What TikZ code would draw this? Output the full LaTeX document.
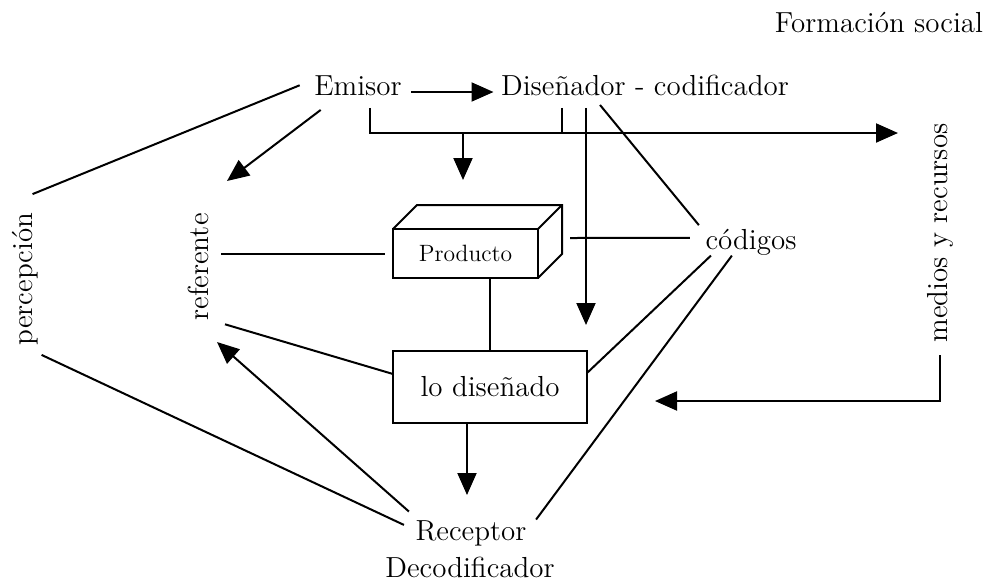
\documentclass[tikz,border=0pt]{standalone}
\usepackage{fontspec}
\usetikzlibrary{arrows.meta}
\newcommand{\dfont}{\fontsize{14.5pt}{17pt}\selectfont}
\tikzset{dgp/.style={
  x=0.5pt,
  y=-0.5pt,
  line width=1pt
}}
\tikzset{dgn/.style={
  font=\dfont,
  inner sep=3.33pt,
  outer sep=3pt
}}
\tikzset{dbox/.style={
  draw,
  shape=rectangle,
  inner sep=0pt,
  outer sep=0pt
}}
\tikzset{darr/.style={-{Triangle[length=11pt,width=9.5pt]}}}

\begin{document}
\begin{tikzpicture}[dgp]
    \useasboundingbox (0,0) rectangle (986,585);

    % Labels
    \node[dgn,anchor=base] (formacion) at (879,32) {Formación social};
    \node[dgn,anchor=base] (emisor) at (358,95) {Emisor};
    \node[dgn,anchor=base] (disenador) at (645,95) {Diseñador - codificador};
    \node[dgn,anchor=base] (codigos) at (751,249) {códigos};
    \node[dgn,rotate=90] (referente) at (198,267) {referente};
    \node[dgn,rotate=90] (percepcion) at (25,279) {percepción};
    \node[dgn,rotate=90] (medios) at (940,233) {medios y recursos};
    \node[dgn,anchor=base] (receptor) at (471,540) {Receptor};
    \node[dgn,anchor=base] (decod) at (470,577) {Decodificador};

    % Product block and designed box
    \node[dbox,minimum width=72.5pt,minimum height=24.5pt,
      font=\fontsize{11.8pt}{14pt}\selectfont] (producto) at (465.5,253.5) {Producto};
    \draw (producto.north west) -- ++(24,-24) -- ++(145,0)
      -- ++(0,49) coordinate (pback) -- (producto.south east);
    \draw (producto.north east) -- ++(24,-24);
    \node[dbox,minimum width=97pt,minimum height=36pt,font=\dfont]
      (disenado) at (490,387) {lo diseñado};

    % Free arrow ends
    \coordinate (refin) at (227,181);
    \coordinate (refout) at (217,342);
    \coordinate (busdrop) at (463,133);
    \coordinate (prodin) at (463,180);
    \coordinate (mediosin) at (898,133);
    \coordinate (tick) at (562,133);
    \coordinate (drop) at (586,325);
    \coordinate (disout) at (655,401);
    \coordinate (recin) at (467,495);

    % Top connectors
    \draw[darr] ([shift={(-3,-3)}]emisor.base east)
      -- ([shift={(5,-3)}]disenador.base west);
    \draw[darr] ([shift={(12,0)}]emisor.south) |- (mediosin);
    \draw[darr] (busdrop) -- (prodin);
    \draw (disenador.south -| tick) -- (tick);
    \draw[darr] (disenador.south -| drop) -- (drop);
    \draw ([shift={(-45,-3)}]disenador.south)
      -- ([shift={(6,9)}]codigos.north west);
    \draw[darr] ([shift={(19,2)}]emisor.south west) -- (refin);
    \draw ([xshift=-1pt]emisor.west)
      -- ([shift={(-18,-6)}]percepcion.south east);

    % Middle connectors
    \draw (referente.south |- producto.west) -- ([xshift=-4pt]producto.west);
    \draw ([shift={(-3,-4)}]codigos.west) -- ([shift={(8,-16)}]pback);
    \draw (disenado.north |- producto.south) -- (disenado.north);
    \draw ([shift={(4,-9)}]referente.south west)
      -- ([shift={(0,-13)}]disenado.west);
    \draw ([shift={(18,-12)}]codigos.south west)
      -- ([shift={(0,-14)}]disenado.east);
    \draw ([shift={(39,-12)}]codigos.south west)
      -- ([shift={(-3,12)}]receptor.north east);
    \draw[darr] (medios.west) |- (disout);

    % Bottom connectors
    \draw[darr] (disenado.south -| recin) -- (recin);
    \draw[darr] ([shift={(6,4)}]receptor.north west) -- (refout);
    \draw ([shift={(-9,-3)}]percepcion.south west)
      -- ([shift={(1,-8)}]receptor.west);

  \end{tikzpicture}
\end{document}
